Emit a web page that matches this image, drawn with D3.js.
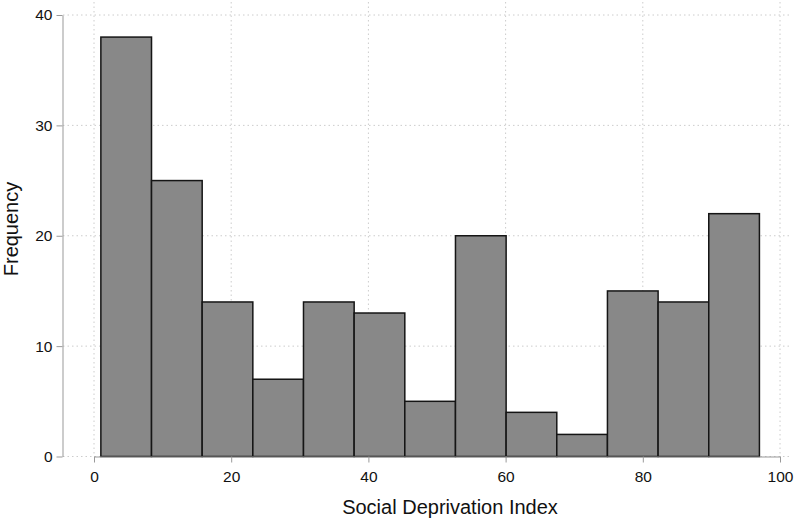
<!DOCTYPE html>
<html>
<head>
<meta charset="utf-8">
<script src="https://cdn.jsdelivr.net/npm/d3@7"></script>
<style>
  body { margin: 0; background: #fff; }
  text { font-family: "Liberation Sans", Arial, sans-serif; fill: #111; }
</style>
</head>
<body>
<div class="vis-hist"></div>
<script>
// bin counts, equal-width bins from binStart to binEnd
const counts = [38, 25, 14, 7, 14, 13, 5, 20, 4, 2, 15, 14, 22];
const binStart = 1;
const binEnd = 97;
const xTicks = [0, 20, 40, 60, 80, 100];
const yTicks = [0, 10, 20, 30, 40];

const W = 797, H = 523;
const margin = { top: 15, right: 17, bottom: 66, left: 94 };
const width = W - margin.left - margin.right;
const height = H - margin.top - margin.bottom;

const svg = d3.select('.vis-hist').append('svg')
    .attr('width', W)
    .attr('height', H);

const g = svg.append('g')
    .attr('transform', 'translate(' + margin.left + ',' + margin.top + ')');

// Scale data ranges
const x = d3.scaleLinear().domain([0, 100]).range([0, 686]);
const y = d3.scaleLinear().domain([0, 40]).range([height - 0.5, 0]);

const binW = (binEnd - binStart) / counts.length;
const bins = counts.map((c, i) => ({ x0: binStart + i * binW, x1: binStart + (i + 1) * binW, n: c }));

// Gridlines (dotted)
g.selectAll('.hgrid')
    .data(yTicks)
    .enter().append('line')
    .attr('x1', -31).attr('x2', 698)
    .attr('y1', d => y(d)).attr('y2', d => y(d))
    .attr('stroke', '#cccccc')
    .attr('stroke-width', 1)
    .attr('stroke-dasharray', '1.5,3');
g.selectAll('.vgrid')
    .data(xTicks)
    .enter().append('line')
    .attr('x1', d => x(d)).attr('x2', d => x(d))
    .attr('y1', -13).attr('y2', y(0))
    .attr('stroke', '#cccccc')
    .attr('stroke-width', 1)
    .attr('stroke-dasharray', '1.5,3');

// Bars
g.selectAll('.bar')
    .data(bins)
    .enter().append('rect')
    .attr('x', d => x(d.x0))
    .attr('width', d => x(d.x1) - x(d.x0))
    .attr('y', d => y(d.n))
    .attr('height', d => y(0) - y(d.n))
    .attr('fill', '#888888')
    .attr('stroke', '#151515')
    .attr('stroke-width', 1.5);

// X axis
const xAxis = g.append('g')
    .attr('transform', 'translate(0,' + y(0) + ')')
    .call(d3.axisBottom(x).tickValues(xTicks).tickSize(6).tickSizeOuter(0));
xAxis.select('.domain').attr('stroke', '#999');
xAxis.selectAll('.tick line').attr('stroke', '#999');
xAxis.selectAll('.tick text')
    .attr('y', 14)
    .style('font-size', '15.5px')
    .style('font-family', '"Liberation Sans", Arial, sans-serif')
    .attr('fill', '#000');

g.append('text')
    .attr('text-anchor', 'middle')
    .attr('x', 356)
    .attr('y', height + 57)
    .style('font-size', '20px')
    .text('Social Deprivation Index');

// Y axis
const yAxis = g.append('g')
    .attr('transform', 'translate(-31.5,0)')
    .call(d3.axisLeft(y).tickValues(yTicks).tickSize(6).tickSizeOuter(0).tickPadding(4));
yAxis.select('.domain').attr('stroke', '#999');
yAxis.selectAll('.tick line').attr('stroke', '#999');
yAxis.selectAll('.tick text')
    .style('font-size', '15.5px')
    .style('font-family', '"Liberation Sans", Arial, sans-serif')
    .attr('fill', '#000');

g.append('text')
    .attr('text-anchor', 'middle')
    .attr('transform', 'rotate(-90)')
    .attr('x', -214)
    .attr('y', -76)
    .style('font-size', '20px')
    .text('Frequency');
</script>
</body>
</html>
